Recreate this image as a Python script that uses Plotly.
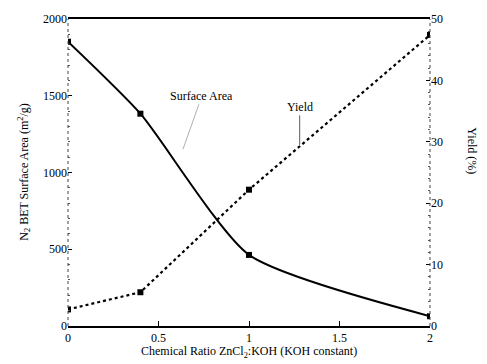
import plotly.graph_objects as go

ratio = [0, 0.4, 1, 2]
surface_area = [1852, 1383, 463, 64]
yield_pct = [2.7, 5.5, 22.2, 47.4]

x_ticks = [0, 0.5, 1, 1.5, 2]
x_ticklabels = ["0", "0.5", "1", "1.5", "2"]
left_ticks = [0, 500, 1000, 1500, 2000]
left_ticklabels = ["0", "500", "1000", "1500", "2000"]
right_ticks = [0, 10, 20, 30, 40, 50]
right_ticklabels = ["0", "10", "20", "30", "40", "50"]

font = "Liberation Serif, Times New Roman, serif"

fig = go.Figure()
fig.add_trace(go.Scatter(
    x=ratio, y=surface_area, mode="lines+markers",
    line=dict(color="black", width=2, shape="spline", smoothing=0.6),
    marker=dict(symbol="square", size=6, color="black"),
    name="Surface Area", yaxis="y"))
fig.add_trace(go.Scatter(
    x=ratio, y=yield_pct, mode="lines+markers",
    line=dict(color="black", width=2.2, dash="dot"),
    marker=dict(symbol="square", size=6, color="black"),
    name="Yield", yaxis="y2"))

fig.update_layout(
    width=487, height=364,
    margin=dict(l=68, r=57, t=15, b=38),
    paper_bgcolor="white", plot_bgcolor="white",
    showlegend=False,
    font=dict(family=font, size=12, color="black"),
    xaxis=dict(range=[0, 2], tickvals=x_ticks, ticktext=x_ticklabels,
               showgrid=False, zeroline=False, showline=True, linecolor="black",
               linewidth=1.5, mirror=True, ticks="inside", ticklen=5,
               tickcolor="black", tickfont=dict(size=12)),
    yaxis=dict(range=[0, 2000], tickvals=left_ticks, ticktext=left_ticklabels,
               showgrid=False, zeroline=False, showline=False,
               ticks="inside", ticklen=4, tickcolor="black",
               minor=dict(dtick=100, ticks="inside", ticklen=2, tickcolor="#555"),
               tickfont=dict(size=12)),
    yaxis2=dict(range=[0, 50], tickvals=right_ticks, ticktext=right_ticklabels,
                overlaying="y", side="right", showgrid=False, zeroline=False,
                showline=False, ticks="inside", ticklen=4, tickcolor="black",
                minor=dict(dtick=2, ticks="inside", ticklen=2, tickcolor="#555"),
                tickfont=dict(size=12)),
)

# dotted vertical frame lines
fig.add_shape(type="line", xref="paper", yref="paper", x0=0, x1=0, y0=0, y1=1,
              line=dict(color="#444", width=1, dash="dot"))
fig.add_shape(type="line", xref="paper", yref="paper", x0=1, x1=1, y0=0, y1=1,
              line=dict(color="#444", width=1, dash="dot"))

# axis titles
fig.add_annotation(xref="paper", yref="paper", x=-0.15, y=0.5, showarrow=False,
                   text="N<sub>2</sub> BET Surface Area (m<sup>2</sup>/g)",
                   textangle=-90, font=dict(size=12, family=font))
fig.add_annotation(xref="paper", yref="paper", x=1.14, y=0.57, showarrow=False,
                   text="Yield (%)", textangle=90, font=dict(size=12, family=font))
fig.add_annotation(xref="paper", yref="paper", x=0.5, y=-0.085, showarrow=False,
                   yanchor="middle",
                   text="Chemical Ratio ZnCl<sub>2</sub>:KOH (KOH constant)",
                   font=dict(size=12, family=font))

# labels with leader lines
fig.add_annotation(x=0.635, y=1151, xref="x", yref="y",
                   ax=0.74, ay=1500, axref="x", ayref="y",
                   text="Surface Area",
                   showarrow=True, arrowhead=0, arrowwidth=0.6, arrowcolor="#777",
                   font=dict(size=12, family=font))
fig.add_annotation(x=1.28, y=29.5, xref="x", yref="y2", text="Yield",
                   showarrow=True, arrowhead=0, arrowwidth=0.8, arrowcolor="#333",
                   ax=0, ay=-38, font=dict(size=12, family=font))

fig.write_html("out.html", config={"displayModeBar": False},
               post_script="document.body.style.margin='0';")
